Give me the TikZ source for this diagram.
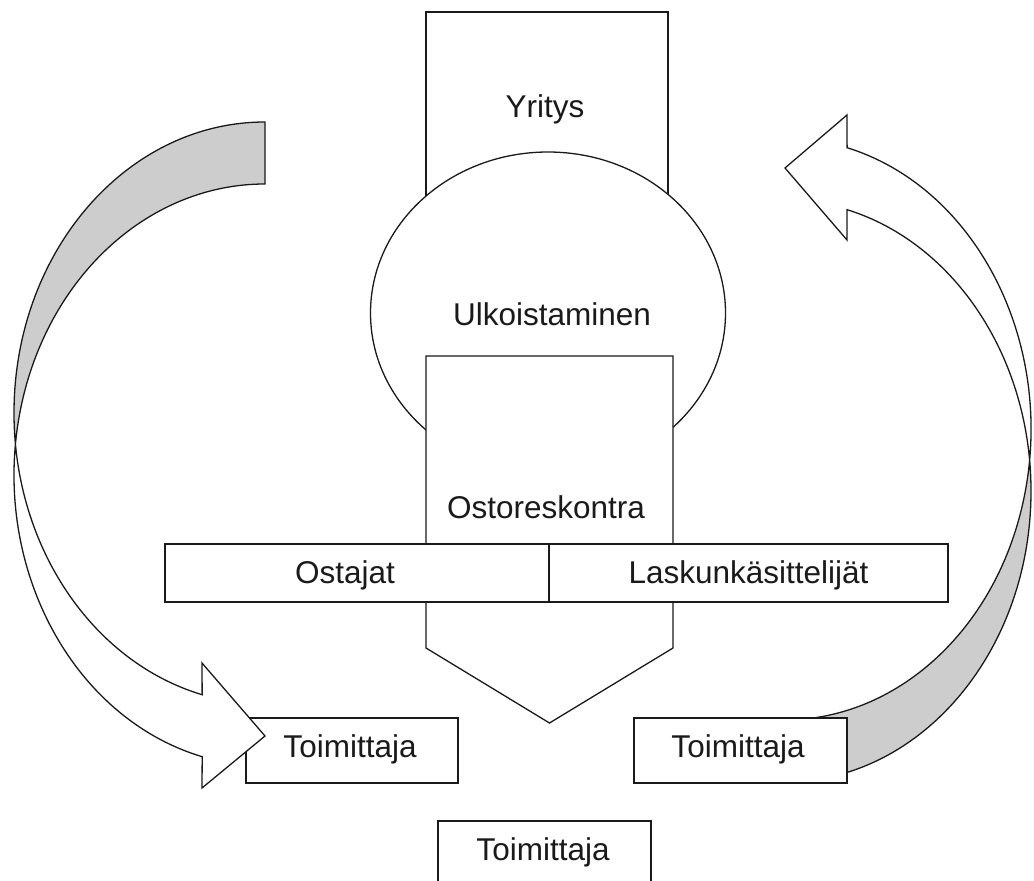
\documentclass[tikz,border=0pt]{standalone}
\usepackage{fontspec}
\setmainfont{Liberation Sans}
\usetikzlibrary{shapes.geometric}
\definecolor{bandgray}{HTML}{CDCDCD}
\definecolor{ink}{HTML}{1A1A1A}
\tikzset{
  outline/.style={draw=ink, line width=1.3pt, line join=miter},
  boxnode/.style={outline, fill=white, rectangle, inner sep=0pt, outer sep=0pt},
  label/.style={anchor=base, inner sep=0pt, font=\fontsize{31.5}{38}\selectfont, text=ink},
}
\begin{document}
\begin{tikzpicture}[x=1pt, y=-1pt]
\useasboundingbox (0,0) rectangle (1034,881);
\clip (0,0) rectangle (1034,881);

% company box, partly hidden by the ellipse
\node[boxnode, minimum width=242pt, minimum height=240pt] (yritys) at (547,132) {};
% outsourcing ellipse
\node[outline, fill=white, ellipse, minimum width=355pt, minimum height=322pt,
      inner sep=0pt, outer sep=0pt] (ulko) at (548,313) {};
% accounts payable pentagon
\draw[outline, fill=white] (426,356) -- (673,356) -- (673,648) -- (549.5,723)
      -- (426,648) -- cycle;
\coordinate (osto) at (549.5,540);
% buyers / invoice handlers bar
\node[boxnode, minimum width=384pt, minimum height=58pt] (ostajat) at (357,573) {};
\node[boxnode, minimum width=399pt, minimum height=58pt] (lasku) at (748.5,573) {};
\draw[draw=ink, line width=2.6pt] (ostajat.north east) -- (ostajat.south east);

% supplier box on the left, overlapped by the arrowhead
\node[boxnode, minimum width=212pt, minimum height=65pt] (toimL) at (352,750.5) {};

% left curved arrow: white front, grey back
\path[fill=white] (265,122) arc[start angle=-90, end angle=-255.5, x radius=251, y radius=291]
  -- (202,663) -- (265,736) -- (202,788) -- (202.2,756.7)
  arc[start angle=-255.5, end angle=-90, x radius=251, y radius=291] -- cycle;
\fill[bandgray] (265,122) arc[start angle=-90, end angle=-186.1, x radius=251, y radius=291]
  arc[start angle=-173.9, end angle=-90, x radius=251, y radius=291] -- cycle;
\draw[outline] (265,122) arc[start angle=-90, end angle=-255.5, x radius=251, y radius=291]
  -- (202,663) -- (265,736) -- (202,788) -- (202.2,756.7)
  arc[start angle=-255.5, end angle=-90, x radius=251, y radius=291] -- cycle;

% right curved arrow: grey back at the bottom, white front
\path[fill=white] (784,782) arc[start angle=90, end angle=-75.2, x radius=247, y radius=291]
  -- (847,240) -- (785,168) -- (847,115) -- (847.1,147.7)
  arc[start angle=-75.2, end angle=90, x radius=247, y radius=291] -- cycle;
\fill[bandgray] (784,782) arc[start angle=90, end angle=-6.1, x radius=247, y radius=291]
  arc[start angle=6.1, end angle=90, x radius=247, y radius=291] -- cycle;
\draw[outline] (784,782) arc[start angle=90, end angle=-75.2, x radius=247, y radius=291]
  -- (847,240) -- (785,168) -- (847,115) -- (847.1,147.7)
  arc[start angle=-75.2, end angle=90, x radius=247, y radius=291] -- cycle;

% supplier box on the right, covering the arrow tail
\node[boxnode, minimum width=213pt, minimum height=65pt] (toimR) at (740.5,750.5) {};
% supplier box at the bottom
\node[boxnode, minimum width=213pt, minimum height=80pt] (toimB) at (544.5,861) {};

% labels
\node[label] (tYritys) at (545,117) {Yritys};
\node[label] (tUlko) at (552,325) {Ulkoistaminen};
\node[label] (tOsto) at (546,518) {Ostoreskontra};
\node[label] (tOstajat) at (345,583) {Ostajat};
\node[label] (tLasku) at (748.5,583) {Laskunkäsittelijät};
\node[label] (tToimL) at (350,757) {Toimittaja};
\node[label] (tToimR) at (738,757) {Toimittaja};
\node[label] (tToimB) at (543,860) {Toimittaja};
\end{tikzpicture}
\end{document}
